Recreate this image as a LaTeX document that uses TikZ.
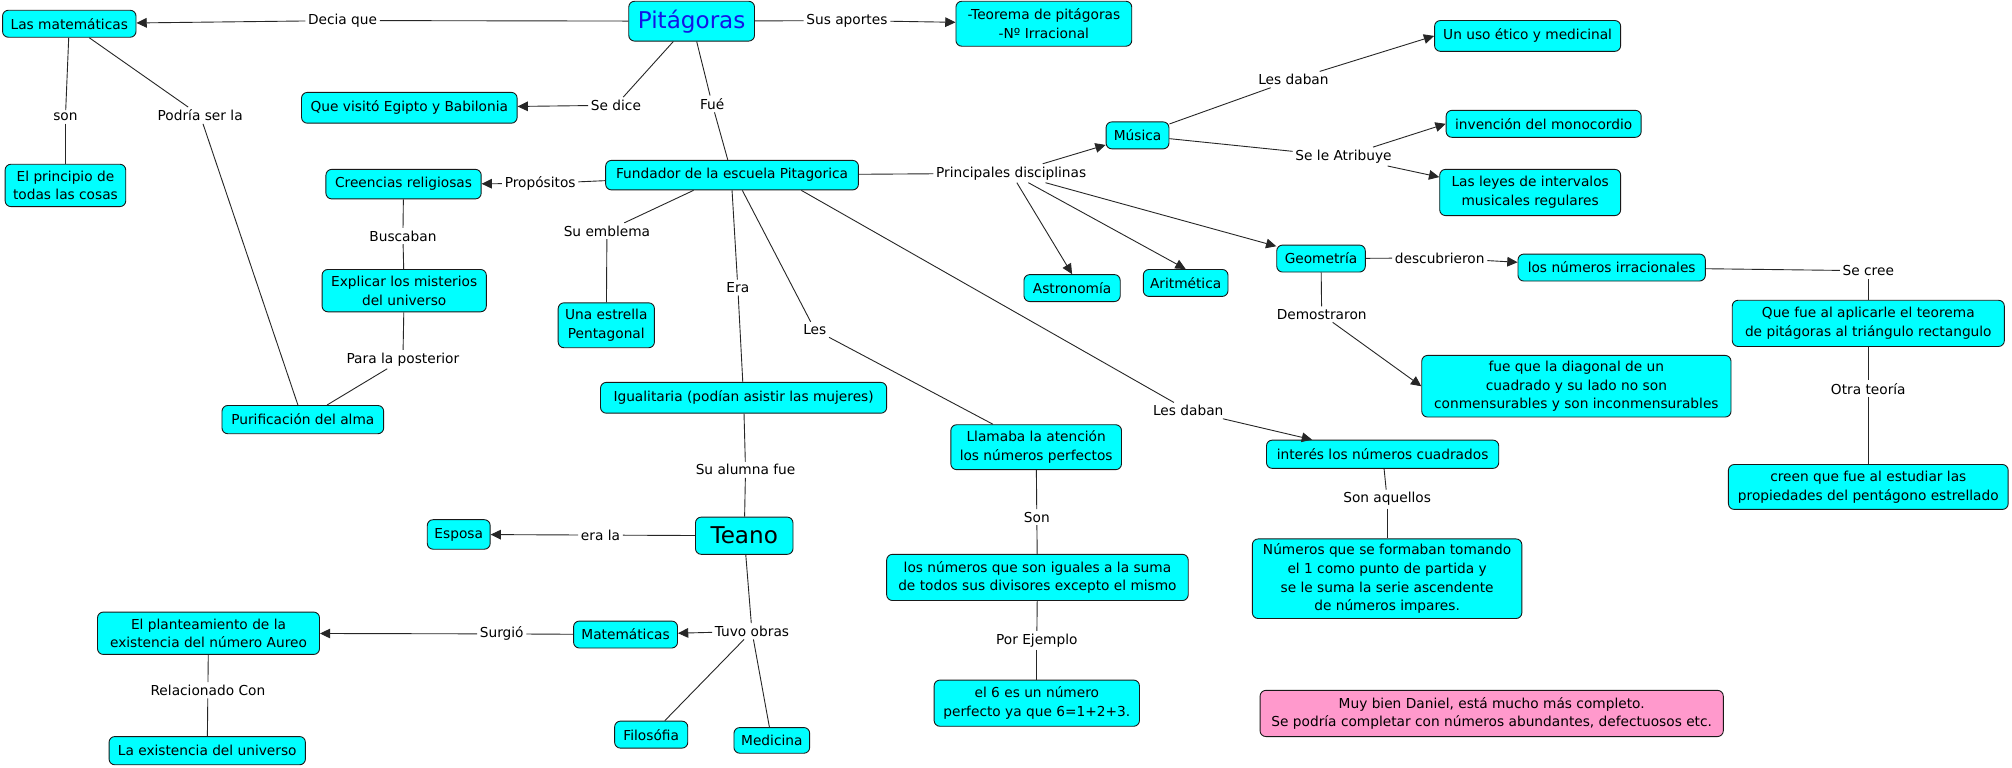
\documentclass[tikz,border=0pt]{standalone}
\usepackage{fontspec}
\setmainfont{DejaVu Sans}
\usetikzlibrary{arrows.meta}
\newcommand\myfs{\fontsize{10.7}{14.5}\selectfont}
\newcommand\bigfs{\fontsize{18}{20}\selectfont}
\definecolor{boxcyan}{RGB}{0,255,255}
\definecolor{boxpink}{RGB}{255,153,204}
\definecolor{titleblue}{RGB}{20,20,230}
\begin{document}
\begin{tikzpicture}[x=1pt,y=-1pt,
  box/.style={draw=black!90, fill=boxcyan, rounded corners=4.5pt, align=center,
    inner sep=1pt, line width=0.7pt, font=\myfs},
  lab/.style={inner sep=2pt, font=\myfs, align=center},
  ln/.style={draw=black!85, line width=0.7pt},
  arr/.style={-{Triangle[length=8pt,width=7.5pt]}}]
\useasboundingbox[fill=white] (0,0) rectangle (1568,598);

% concept boxes
\node[box, minimum width=98pt, minimum height=31pt, font=\bigfs, text=titleblue] (P) at (539,16.5) {Pitágoras};
\node[box, minimum width=104pt, minimum height=21pt] (LM) at (54,18.5) {Las matemáticas};
\node[box, minimum width=137pt, minimum height=35pt] (Teo) at (813.5,18.5) {-Teorema de pitágoras\\-Nº Irracional};
\node[box, minimum width=168pt, minimum height=24pt] (QV) at (319,84) {Que visitó Egipto y Babilonia};
\node[box, minimum width=94pt, minimum height=33pt] (EP) at (51,144.5) {El principio de\\todas las cosas};
\node[box, minimum width=197pt, minimum height=23pt] (F) at (570.5,136.5) {Fundador de la escuela Pitagorica};
\node[box, minimum width=121pt, minimum height=23pt] (CR) at (314.5,143.5) {Creencias religiosas};
\node[box, minimum width=128pt, minimum height=33pt] (EX) at (315,226.5) {Explicar los misterios\\del universo};
\node[box, minimum width=126pt, minimum height=22pt] (PU) at (236,327) {Purificación del alma};
\node[box, minimum width=75pt, minimum height=35pt] (UE) at (472.5,253.5) {Una estrella\\Pentagonal};
\node[box, minimum width=223pt, minimum height=24pt] (IG) at (579.5,310) {Igualitaria (podían asistir las mujeres)};
\node[box, minimum width=76pt, minimum height=29pt, font=\bigfs] (TE) at (580,417.5) {Teano};
\node[box, minimum width=49pt, minimum height=23pt] (ES) at (357.5,416.5) {Esposa};
\node[box, minimum width=81pt, minimum height=21pt] (MA) at (487.5,494.5) {Matemáticas};
\node[box, minimum width=173pt, minimum height=33pt] (PL) at (162.5,493.5) {El planteamiento de la\\existencia del número Aureo};
\node[box, minimum width=153pt, minimum height=22pt] (LE) at (161.5,585) {La existencia del universo};
\node[box, minimum width=57pt, minimum height=21pt] (FI) at (507.5,572.5) {Filosófia};
\node[box, minimum width=59pt, minimum height=20pt] (ME) at (601.5,577) {Medicina};
\node[box, minimum width=133pt, minimum height=35pt] (LL) at (807.5,348.5) {Llamaba la atención\\los números perfectos};
\node[box, minimum width=235pt, minimum height=36pt] (NI) at (808.5,450) {los números que son iguales a la suma\\de todos sus divisores excepto el mismo};
\node[box, minimum width=160pt, minimum height=36pt] (E6) at (808,548) {el 6 es un número\\perfecto ya que 6=1+2+3.};
\node[box, minimum width=49pt, minimum height=21pt] (MU) at (886.5,105.5) {Música};
\node[box, minimum width=145pt, minimum height=24pt] (UU) at (1190.5,28) {Un uso ético y medicinal};
\node[box, minimum width=152pt, minimum height=21pt] (IN) at (1203,96.5) {invención del monocordio};
\node[box, minimum width=141pt, minimum height=36pt] (LY) at (1192.5,150) {Las leyes de intervalos\\musicales regulares};
\node[box, minimum width=75pt, minimum height=21pt] (AS) at (835.5,224.5) {Astronomía};
\node[box, minimum width=66pt, minimum height=21pt] (AR) at (924,220.5) {Aritmética};
\node[box, minimum width=69pt, minimum height=21pt] (GE) at (1029.5,201.5) {Geometría};
\node[box, minimum width=146pt, minimum height=21pt] (IR) at (1256,208.5) {los números irracionales};
\node[box, minimum width=212pt, minimum height=36pt] (QF) at (1456,252) {Que fue al aplicarle el teorema\\de pitágoras al triángulo rectangulo};
\node[box, minimum width=241pt, minimum height=48pt] (FQ) at (1228.5,301) {fue que la diagonal de un\\cuadrado y su lado no son\\conmensurables y son inconmensurables};
\node[box, minimum width=218pt, minimum height=35pt] (CQ) at (1456,379.5) {creen que fue al estudiar las\\propiedades del pentágono estrellado};
\node[box, minimum width=181pt, minimum height=22pt] (IT) at (1077.5,354) {interés los números cuadrados};
\node[box, minimum width=210pt, minimum height=62pt] (NF) at (1081,451) {Números que se formaban tomando\\el 1 como punto de partida y\\se le suma la serie ascendente\\de números impares.};
\node[box, fill=boxpink, minimum width=361pt, minimum height=36pt] (MB) at (1162.5,556) {Muy bien Daniel, está mucho más completo.\\Se podría completar con números abundantes, defectuosos etc.};

% linking phrases
\node[lab] (DQ) at (267,16) {Decia que};
\node[lab] (SA) at (660,16) {Sus aportes};
\node[lab] (SD) at (480,82) {Se dice};
\node[lab] (FU) at (555,81) {Fué};
\node[lab] (SON1) at (51,91) {son};
\node[lab] (PSL) at (156,90) {Podría ser la};
\node[lab] (PR) at (421,143) {Propósitos};
\node[lab] (BU) at (314,184) {Buscaban};
\node[lab] (PLP) at (314,280) {Para la posterior};
\node[lab] (SE) at (473,180) {Su emblema};
\node[lab] (ERA) at (575,224) {Era};
\node[lab] (LES) at (635,257) {Les};
\node[lab] (LD2) at (926,320) {Les daban};
\node[lab] (PD) at (788,135) {Principales disciplinas};
\node[lab] (SAF) at (581,366) {Su alumna fue};
\node[lab] (ERL) at (468,417) {era la};
\node[lab] (TO) at (586,492) {Tuvo obras};
\node[lab] (SU) at (391,494) {Surgió};
\node[lab] (RC) at (162,538) {Relacionado Con};
\node[lab] (SON2) at (808,403) {Son};
\node[lab] (PE) at (808,499) {Por Ejemplo};
\node[lab] (LD1) at (1008,62) {Les daban};
\node[lab] (SLA) at (1047,122) {Se le Atribuye};
\node[lab] (DE) at (1122,201) {descubrieron};
\node[lab] (DM) at (1030,245) {Demostraron};
\node[lab] (SC) at (1456,211) {Se cree};
\node[lab] (OT) at (1456,303) {Otra teoría};
\node[lab] (SQ) at (1081,389) {Son aquellos};

% connectors
\draw[ln] (P) -- (DQ); \draw[ln,arr] (DQ) -- (LM);
\draw[ln] (P) -- (SA); \draw[ln,arr] (SA) -- (Teo);
\draw[ln] (P) -- (SD); \draw[ln,arr] (SD) -- (QV);
\draw[ln] (P) -- (FU); \draw[ln] (FU) -- (F);
\draw[ln] (LM) -- (SON1); \draw[ln] (SON1) -- (EP);
\draw[ln] (LM) -- (PSL); \draw[ln] (PSL) -- (PU);
\draw[ln] (F) -- (PR); \draw[ln,arr] (PR) -- (CR);
\draw[ln] (CR) -- (BU); \draw[ln] (BU) -- (EX);
\draw[ln] (EX) -- (PLP); \draw[ln] (PLP) -- (PU);
\draw[ln] ([xshift=-30pt]F.south) -- (SE); \draw[ln] (SE) -- (UE);
\draw[ln] (F.south) -- (ERA); \draw[ln] (ERA) -- (IG);
\draw[ln] ([xshift=8pt]F.south) -- (LES); \draw[ln] (LES) -- (LL);
\draw[ln] ([xshift=54pt]F.south) -- (LD2); \draw[ln,arr] (LD2) -- ([xshift=-55pt]IT.north);
\draw[ln] (F) -- (PD);
\draw[ln,arr] (PD) -- (MU);
\draw[ln,arr] (PD) -- (AS.north);
\draw[ln,arr] (PD) -- (AR.north);
\draw[ln,arr] (PD) -- (GE);
\draw[ln] (IG) -- (SAF); \draw[ln] (SAF) -- (TE);
\draw[ln] (TE) -- (ERL); \draw[ln,arr] (ERL) -- (ES);
\draw[ln] (TE) -- (TO); \draw[ln,arr] (TO) -- (MA);
\draw[ln] (TO) -- (FI); \draw[ln] (TO) -- (ME);
\draw[ln] (MA) -- (SU); \draw[ln,arr] (SU) -- (PL);
\draw[ln] (PL) -- (RC); \draw[ln] (RC) -- (LE);
\draw[ln] (LL) -- (SON2); \draw[ln] (SON2) -- (NI);
\draw[ln] (NI) -- (PE); \draw[ln] (PE) -- (E6);
\draw[ln] (MU) -- (LD1); \draw[ln,arr] (LD1) -- (UU.west);
\draw[ln] (MU) -- (SLA); \draw[ln,arr] (SLA) -- (IN.west);
\draw[ln,arr] (SLA) -- ([yshift=12pt]LY.west);
\draw[ln] (GE) -- (DE); \draw[ln,arr] (DE) -- (IR);
\draw[ln] (GE) -- (DM); \draw[ln,arr] (DM) -- (FQ.west);
\draw[ln] (IR) -- (SC); \draw[ln] (SC) -- (QF);
\draw[ln] (QF) -- (OT); \draw[ln] (OT) -- (CQ);
\draw[ln] (IT) -- (SQ); \draw[ln] (SQ) -- (NF);
\end{tikzpicture}
\end{document}
